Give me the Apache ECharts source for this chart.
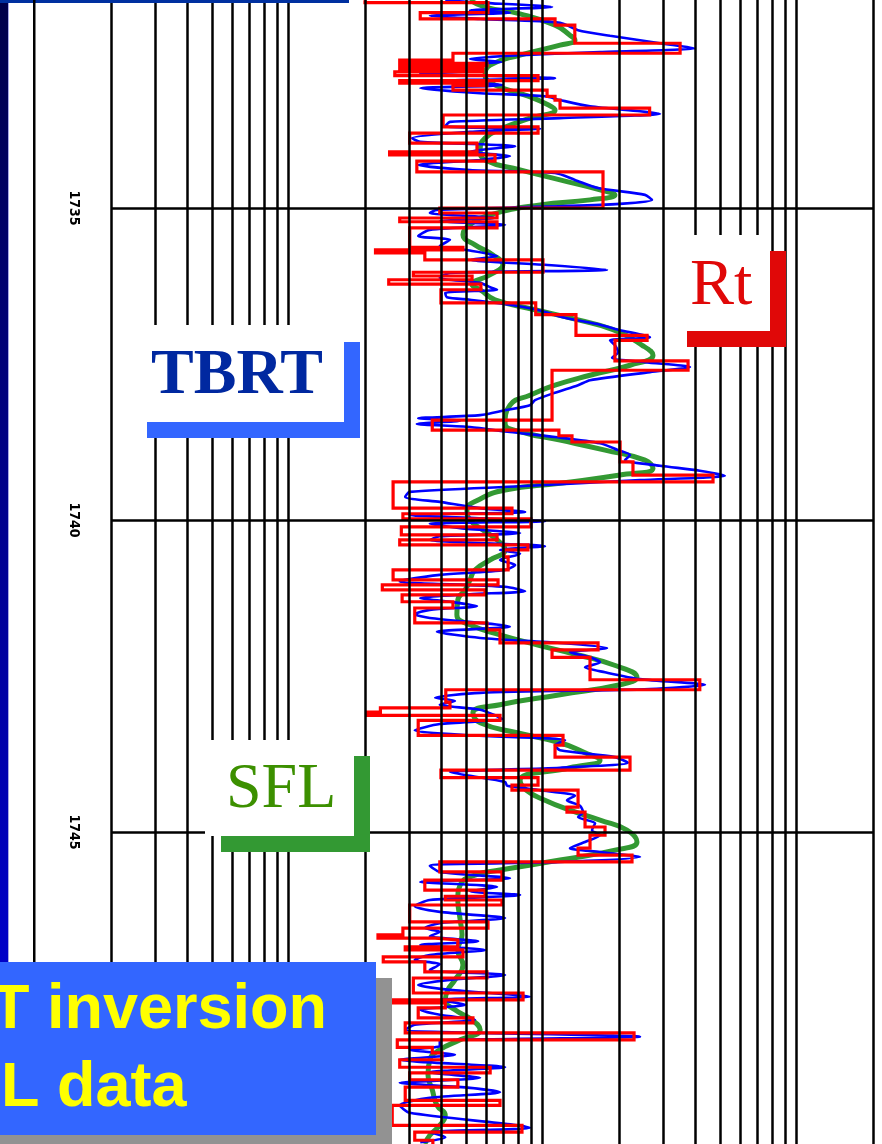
<!DOCTYPE html>
<html><head><meta charset="utf-8">
<script src="https://cdn.jsdelivr.net/npm/echarts@6/dist/echarts.min.js"></script>
<style>html,body{margin:0;padding:0;background:#fff;overflow:hidden}#c{width:882px;height:1144px}</style>
</head><body><div id="c"></div><script>
// depth axis range (m) and depth tick labels
const depthTop = 1731.6667;
const depthBottom = 1750;
const depthTicks = [1735, 1740, 1745];
// resistivity grid lines (ohm.m, log scale)
const gridValues = [1, 1.5, 2, 2.5, 3, 3.5, 4, 4.5, 5, 10, 15, 20, 25, 30, 35, 40, 45, 50,
  100, 150, 200, 250, 300, 350, 400, 450, 500, 1000];
// Rt (TBRT inversion): layer boundaries (depth) and layer resistivities
const rtBounds = [1731.67,1731.71,1731.87,1731.97,1732.07,1732.36,1732.52,1732.63,1732.68,1732.72,
  1732.77,1732.82,1732.88,1732.96,1733.00,1733.04,1733.11,1733.21,1733.27,1733.40,
  1733.51,1733.70,1733.80,1733.96,1734.10,1734.15,1734.25,1734.42,1735.00,1735.08,
  1735.16,1735.22,1735.32,1735.63,1735.67,1735.72,1735.83,1736.03,1736.09,1736.15,
  1736.22,1736.31,1736.52,1736.71,1737.04,1737.12,1737.45,1737.60,1738.40,1738.56,
  1738.65,1738.75,1739.07,1739.28,1739.39,1739.81,1739.90,1739.98,1740.11,1740.24,
  1740.32,1740.40,1740.48,1740.59,1740.80,1740.96,1741.04,1741.12,1741.20,1741.31,
  1741.41,1741.65,1741.76,1741.97,1742.08,1742.20,1742.56,1742.72,1742.92,1743.01,
  1743.08,1743.13,1743.21,1743.45,1743.61,1743.80,1744.01,1744.13,1744.25,1744.33,
  1744.60,1744.68,1744.92,1745.05,1745.26,1745.37,1745.48,1745.64,1745.77,1745.93,
  1746.03,1746.09,1746.17,1746.44,1746.54,1746.65,1746.70,1746.73,1746.84,1746.89,
  1747.00,1747.08,1747.24,1747.34,1747.58,1747.69,1747.74,1747.82,1747.98,1748.06,
  1748.22,1748.33,1748.45,1748.54,1748.65,1748.77,1748.86,1748.97,1749.09,1749.30,
  1749.38,1749.70,1749.81,1749.94,1750.00];
const rtValues = [10,30.5,16.5,56,67,174,22.2,13.7,30.2,13.7,
  29.1,13.1,48,13.7,30.2,22.2,52.1,56,58.6,132,
  20.3,48,15,27.6,12.5,32.5,16,86.5,19.7,33.1,
  13.7,33.1,15,24.3,11,17.2,50.2,15.5,26.4,12.4,
  28.6,19.9,47,67.7,129,96.4,187,54.5,18.4,58,
  65.3,101,113.5,234.5,12.9,37.9,14.1,45,13.9,33.1,
  13.7,43.8,35.2,36.6,12.9,33.4,11.7,29.7,14,22.2,
  15.7,30.2,34,82.7,54.5,76.9,208,20.8,21.6,11.5,
  10.2,34,16.2,60.2,56,110.5,19.9,48,37.9,69,
  62.4,73.5,88.1,76.9,69,112.5,19.7,34.6,17.2,29.7,
  20.7,34.6,15,30.5,14.1,11.25,18.9,23.2,14.4,24.3,
  11.8,17.2,30.2,15.5,41.9,12.8,20.7,16.2,26.6,14.4,
  114.6,13.4,18.4,20.1,13.7,31.1,15,23.2,14.4,34,
  12.8,41.5,15.7,18.5];
// measured log: [depth, resistivity]
const measuredLog = [[1731.67,20.7],[1731.70,25.9],[1731.78,54.5],[1731.83,25.9],[1731.87,37.2],[1731.92,18.0],[1731.97,28.4],[1732.03,58.6],[1732.15,69.0],[1732.24,92.2],
  [1732.36,145],[1732.44,199],[1732.50,84.2],[1732.56,37.2],[1732.61,25.9],[1732.66,34.6],[1732.71,18.0],[1732.79,28.4],[1732.84,16.5],[1732.92,56.0],
  [1732.96,21.6],[1733.03,34.9],[1733.08,16.5],[1733.16,28.4],[1733.21,51.1],[1733.27,58.6],[1733.37,76.9],[1733.45,121],[1733.49,145],[1733.56,58.6],
  [1733.62,21.6],[1733.69,20.7],[1733.73,48.9],[1733.78,25.9],[1733.88,15.3],[1733.94,16.5],[1734.01,39.0],[1734.07,28.4],[1734.10,25.9],[1734.17,37.2],
  [1734.23,28.4],[1734.31,16.2],[1734.39,25.9],[1734.44,56.0],[1734.55,67.1],[1734.68,82.7],[1734.79,126.6],[1734.87,134.9],[1734.95,84.2],[1735.03,19.2],
  [1735.08,18.0],[1735.16,32.5],[1735.21,19.7],[1735.27,35.6],[1735.35,18.0],[1735.45,16.2],[1735.51,21.6],[1735.61,19.7],[1735.67,24.8],[1735.77,33.1],
  [1735.83,25.9],[1735.91,51.1],[1735.99,89.7],[1736.04,21.6],[1736.12,19.7],[1736.20,28.4],[1736.27,31.1],[1736.31,33.1],[1736.36,20.7],[1736.43,21.0],
  [1736.47,25.9],[1736.55,37.2],[1736.63,47.5],[1736.76,61.3],[1736.87,84.2],[1736.95,99.1],[1737.07,132.4],[1737.12,92.2],[1737.20,96.4],[1737.31,99.1],
  [1737.40,93.9],[1737.47,126.6],[1737.55,190.4],[1737.63,132.4],[1737.76,76.9],[1737.84,69.0],[1737.96,56.0],[1738.08,46.7],[1738.16,44.6],[1738.24,35.6],
  [1738.32,28.4],[1738.37,16.2],[1738.41,23.7],[1738.46,16.0],[1738.51,25.9],[1738.59,37.2],[1738.67,56.0],[1738.77,84.2],[1738.88,99.1],[1738.96,110.5],
  [1739.04,105.6],[1739.13,145],[1739.21,208],[1739.29,261],[1739.36,121],[1739.46,40.8],[1739.55,15.0],[1739.63,14.4],[1739.71,19.7],[1739.81,28.4],
  [1739.87,42.7],[1739.92,15.0],[1740.02,51.1],[1740.06,18.0],[1740.13,23.7],[1740.21,40.8],[1740.26,19.7],[1740.32,18.0],[1740.42,51.1],[1740.48,34.0],
  [1740.54,40.8],[1740.64,34.0],[1740.72,39.0],[1740.80,35.6],[1740.88,19.7],[1740.96,14.4],[1740.99,13.7],[1741.07,35.6],[1741.14,42.7],[1741.19,25.9],
  [1741.25,16.5],[1741.31,21.6],[1741.38,27.6],[1741.44,18.0],[1741.51,15.7],[1741.57,18.0],[1741.71,37.2],[1741.79,19.2],[1741.89,28.4],[1741.97,58.6],
  [1742.05,89.7],[1742.12,64.1],[1742.20,76.9],[1742.28,84.2],[1742.36,73.5],[1742.44,88.1],[1742.55,121],[1742.64,218],[1742.71,132.4],[1742.77,28.4],
  [1742.85,18.9],[1742.90,22.6],[1742.96,19.7],[1743.04,28.4],[1743.13,32.5],[1743.19,34.6],[1743.27,19.7],[1743.37,15.7],[1743.45,25.9],[1743.53,61.3],
  [1743.61,56.0],[1743.69,58.6],[1743.80,96.4],[1743.89,108.5],[1743.97,58.6],[1744.04,21.6],[1744.10,25.9],[1744.20,35.6],[1744.26,36.3],[1744.33,48.9],
  [1744.42,67.1],[1744.49,62.4],[1744.58,70.2],[1744.68,72.2],[1744.76,69.0],[1744.86,80.5],[1744.97,78.3],[1745.05,84.2],[1745.16,73.5],[1745.26,64.1],
  [1745.32,84.2],[1745.40,121],[1745.48,58.6],[1745.54,18.0],[1745.64,19.7],[1745.74,37.2],[1745.80,16.5],[1745.88,33.1],[1745.95,25.9],[1746.01,40.8],
  [1746.09,18.0],[1746.19,15.7],[1746.28,19.7],[1746.38,35.6],[1746.46,19.7],[1746.54,17.2],[1746.60,19.7],[1746.67,18.0],[1746.75,27.9],[1746.81,16.5],
  [1746.89,29.7],[1746.97,18.0],[1747.05,15.7],[1747.12,19.7],[1747.21,18.0],[1747.29,35.6],[1747.37,21.6],[1747.45,16.2],[1747.53,21.6],[1747.64,44.6],
  [1747.69,19.7],[1747.77,24.8],[1747.85,16.5],[1747.93,19.7],[1748.01,27.1],[1748.09,15.7],[1748.17,14.4],[1748.28,121],[1748.35,19.7],[1748.43,19.7],
  [1748.49,15.0],[1748.57,22.6],[1748.65,13.7],[1748.77,35.6],[1748.85,18.0],[1748.94,28.4],[1749.02,13.7],[1749.10,25.9],[1749.17,34.0],[1749.26,18.0],
  [1749.38,13.7],[1749.50,15.0],[1749.74,44.6],[1749.81,18.0],[1749.89,20.7],[1749.97,16.5]];
// SFL log: [depth, resistivity]
const sflLog = [[1731.67,25.9],[1731.78,29.7],[1731.89,40.8],[1732.07,56.0],[1732.23,64.1],[1732.31,67.1],[1732.39,58.6],[1732.55,40.8],[1732.71,31.1],[1732.87,29.7],
  [1733.03,32.5],[1733.19,42.7],[1733.35,52.8],[1733.43,56.0],[1733.56,44.6],[1733.72,34.9],[1733.88,29.7],[1734.07,28.4],[1734.23,29.7],[1734.39,40.8],
  [1734.55,58.6],[1734.71,84.2],[1734.79,96.4],[1734.87,76.9],[1734.95,48.9],[1735.11,31.1],[1735.27,25.9],[1735.43,24.3],[1735.59,27.1],[1735.75,31.8],
  [1735.91,34.9],[1736.07,31.1],[1736.23,26.4],[1736.31,28.4],[1736.47,32.5],[1736.63,46.7],[1736.79,68.4],[1736.95,94.7],[1737.20,123.4],[1737.36,136.1],
  [1737.52,110.5],[1737.68,76.9],[1737.84,56.0],[1738.00,44.6],[1738.16,37.2],[1738.45,35.6],[1738.59,41.5],[1738.72,58.6],[1738.88,88.1],[1739.04,126.6],
  [1739.17,136.1],[1739.28,100.9],[1739.41,58.6],[1739.52,35.6],[1739.68,27.9],[1739.84,25.2],[1740.00,25.9],[1740.16,29.1],[1740.32,33.1],[1740.48,35.6],
  [1740.64,31.1],[1740.80,27.1],[1740.96,25.9],[1741.12,24.8],[1741.28,23.2],[1741.52,23.0],[1741.68,25.9],[1741.84,34.0],[1742.00,47.5],[1742.16,68.4],
  [1742.32,94.7],[1742.52,117.7],[1742.64,100.9],[1742.80,58.6],[1742.96,34.0],[1743.09,26.6],[1743.25,28.4],[1743.41,39.7],[1743.57,58.6],[1743.73,73.5],
  [1743.85,84.2],[1743.97,64.1],[1744.17,40.8],[1744.33,43.2],[1744.49,51.1],[1744.65,64.1],[1744.81,84.2],[1744.97,107.5],[1745.16,117.7],[1745.29,96.4],
  [1745.45,58.6],[1745.61,34.0],[1745.69,27.1],[1745.85,23.7],[1746.09,23.2],[1746.41,23.7],[1746.65,24.1],[1746.89,23.2],[1747.13,24.3],[1747.37,22.6],
  [1747.53,21.2],[1747.69,20.7],[1747.85,22.6],[1748.01,26.4],[1748.17,28.4],[1748.33,23.7],[1748.49,19.7],[1748.65,18.0],[1748.89,17.7],[1749.13,18.4],
  [1749.38,19.2],[1749.54,20.7],[1749.70,19.7],[1749.86,18.0],[1750.00,17.2]];

const rtData = [];
for (let i = 0; i < rtValues.length; i++) {
  rtData.push([rtValues[i], rtBounds[i]], [rtValues[i], rtBounds[i + 1]]);
}
const blueData = measuredLog.map(p => [p[1], p[0]]);
const sflData = sflLog.map(p => [p[1], p[0]]);

const chart = echarts.init(document.getElementById('c'), null, {renderer: 'canvas'});
const Z = 100;
const option = {
  animation: false,
  backgroundColor: '#ffffff',
  grid: {left: 111, top: 0, width: 762, height: 1144, outerBoundsMode: 'none', containLabel: false},
  xAxis: {type: 'log', logBase: 10, min: 1, max: 1000,
    axisLine: {show: false}, axisTick: {show: false}, axisLabel: {show: false}, splitLine: {show: false}},
  yAxis: {type: 'value', inverse: true, min: depthTop, max: depthBottom,
    axisLine: {show: false}, axisTick: {show: false}, splitLine: {show: false},
    axisLabel: {show: true, customValues: depthTicks, rotate: -90, margin: 30, color: '#000',
      fontFamily: '"DejaVu Sans Condensed", "Liberation Sans Narrow", sans-serif', fontWeight: 'bold', fontSize: 14,
      formatter: v => String(Math.round(v))}},
  series: [
    {type: 'line', z: 1, data: [[1, depthTop]], showSymbol: false, silent: true,
      lineStyle: {opacity: 0},
      markLine: {silent: true, symbol: ['none', 'none'], label: {show: false}, animation: false,
        emphasis: {disabled: true},
        lineStyle: {color: '#000', width: 2.5, type: 'solid'},
        data: gridValues.map(v => ({xAxis: v})).concat(depthTicks.map(d => ({yAxis: d})))}},
    {name: 'SFL', type: 'line', z: 2, data: sflData, smooth: 0.5, showSymbol: false, silent: true,
      lineStyle: {color: '#339933', width: 5}},
    {name: 'Measured', type: 'line', z: 3, data: blueData, smooth: 0.25, showSymbol: false, silent: true,
      lineStyle: {color: '#0000ff', width: 2.6}},
    {name: 'Rt', type: 'line', z: 4, data: rtData, showSymbol: false, silent: true,
      lineStyle: {color: '#ff0000', width: 3.2, join: 'miter'}}
  ],
  graphic: [
    {type: 'rect', z: Z, shape: {x: 0, y: 0, width: 8, height: 1144},
      style: {fill: new echarts.graphic.LinearGradient(0, 0, 0, 1, [{offset: 0, color: '#00004a'}, {offset: 1, color: '#0000e0'}])}},
    {type: 'rect', z: Z, shape: {x: 8, y: 0, width: 1, height: 1144}, style: {fill: '#a8a8e8'}},
    {type: 'rect', z: Z, shape: {x: 0, y: 0, width: 349, height: 3}, style: {fill: '#0030a0'}},
    {type: 'rect', z: Z, shape: {x: 33, y: 0, width: 2.5, height: 1144}, style: {fill: '#000'}},
    // TBRT label
    {type: 'rect', z: Z, shape: {x: 147, y: 325, width: 197, height: 97}, style: {fill: '#fff'}},
    {type: 'rect', z: Z, shape: {x: 344, y: 342, width: 16, height: 96}, style: {fill: '#3366ff'}},
    {type: 'rect', z: Z, shape: {x: 147, y: 422, width: 213, height: 16}, style: {fill: '#3366ff'}},
    {type: 'text', z: Z + 1, style: {text: 'TBRT', x: 151, y: 376, textVerticalAlign: 'middle',
      font: 'bold 64px "Liberation Serif"', fill: '#0028a0'}},
    // Rt label
    {type: 'rect', z: Z, shape: {x: 687, y: 235, width: 83, height: 96}, style: {fill: '#fff'}},
    {type: 'rect', z: Z, shape: {x: 770, y: 251, width: 16, height: 96}, style: {fill: '#e00808'}},
    {type: 'rect', z: Z, shape: {x: 687, y: 331, width: 99, height: 16}, style: {fill: '#e00808'}},
    {type: 'text', z: Z + 1, style: {text: 'Rt', x: 690, y: 287, textVerticalAlign: 'middle',
      font: '66px "Liberation Serif"', fill: '#e00808'}},
    // SFL label
    {type: 'rect', z: Z, shape: {x: 205, y: 740, width: 149, height: 96}, style: {fill: '#fff'}},
    {type: 'rect', z: Z, shape: {x: 354, y: 756, width: 16, height: 96}, style: {fill: '#339933'}},
    {type: 'rect', z: Z, shape: {x: 221, y: 836, width: 149, height: 16}, style: {fill: '#339933'}},
    {type: 'text', z: Z + 1, style: {text: 'SFL', x: 226, y: 790, textVerticalAlign: 'middle',
      font: '64px "Liberation Serif"', fill: '#3c9000'}},
    // title box (bottom left)
    {type: 'rect', z: Z, shape: {x: 0, y: 978, width: 392, height: 166}, style: {fill: '#929292'}},
    {type: 'rect', z: Z, shape: {x: 0, y: 962, width: 376, height: 173}, style: {fill: '#3366ff'}},
    {type: 'text', z: Z + 1, style: {text: 'T inversion', x: -9, y: 1011, textVerticalAlign: 'middle',
      font: 'bold 63px "Liberation Sans"', fill: '#ffff00'}},
    {type: 'text', z: Z + 1, style: {text: 'L data', x: 1, y: 1089, textVerticalAlign: 'middle',
      font: 'bold 63px "Liberation Sans"', fill: '#ffff00'}}
  ]
};
chart.setOption(option);
</script></body></html>
